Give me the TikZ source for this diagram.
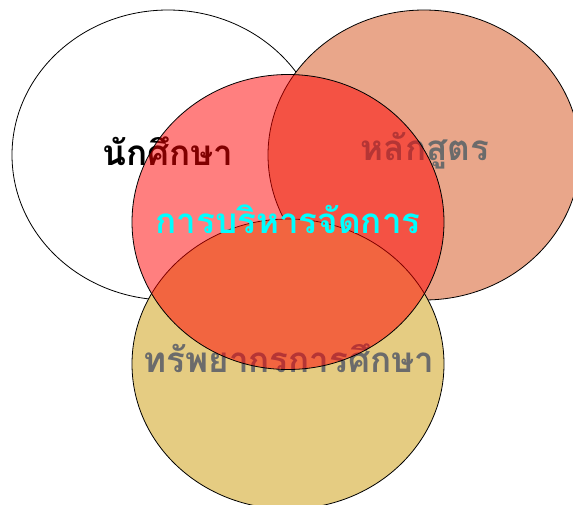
\documentclass[tikz,border=0pt]{standalone}
\usepackage{fontspec}
\newfontfamily\thaifont[Script=Thai]{Loma}
\usepackage{tikz}
\usetikzlibrary{shapes.geometric}
\definecolor{salmon}{HTML}{E9A68A}
\definecolor{gold}{HTML}{E5CC82}
\definecolor{textgrey}{HTML}{6B6B6B}
\definecolor{aqua}{HTML}{00FFFF}

\begin{document}
\begin{tikzpicture}
  [
    x=1pt, y=-1pt,
    blob/.style={ellipse, draw=black, line width=0.8pt, inner sep=0pt,
      outer sep=0pt, minimum width=312pt, minimum height=290pt},
    lbl/.style={font=\thaifont\bfseries\fontsize{35}{40}\selectfont, inner sep=0pt}
  ]
  \useasboundingbox (0,0) rectangle (573,504);
  \clip (0,0) rectangle (573,504);

  \node (student) at (168,155) [blob, fill=white] {};
  \node (studentTxt) at (168,151) [lbl, text=black] {นักศึกษา};

  \node (course) at (424,155) [blob, fill=salmon] {};
  \node (courseTxt) at (425,151) [lbl, text=textgrey] {หลักสูตร};

  \node (resource) at (288,364) [blob, fill=gold] {};
  \node (resourceTxt) at (289,358) [lbl, text=textgrey] {ทรัพยากรการศึกษา};

  \node (admin) at (288,222) [blob, fill=red, fill opacity=0.5,
    minimum height=295pt] {};
  \node (adminTxt) at (288,219) [lbl, text=aqua] {การบริหารจัดการ};
\end{tikzpicture}
\end{document}
